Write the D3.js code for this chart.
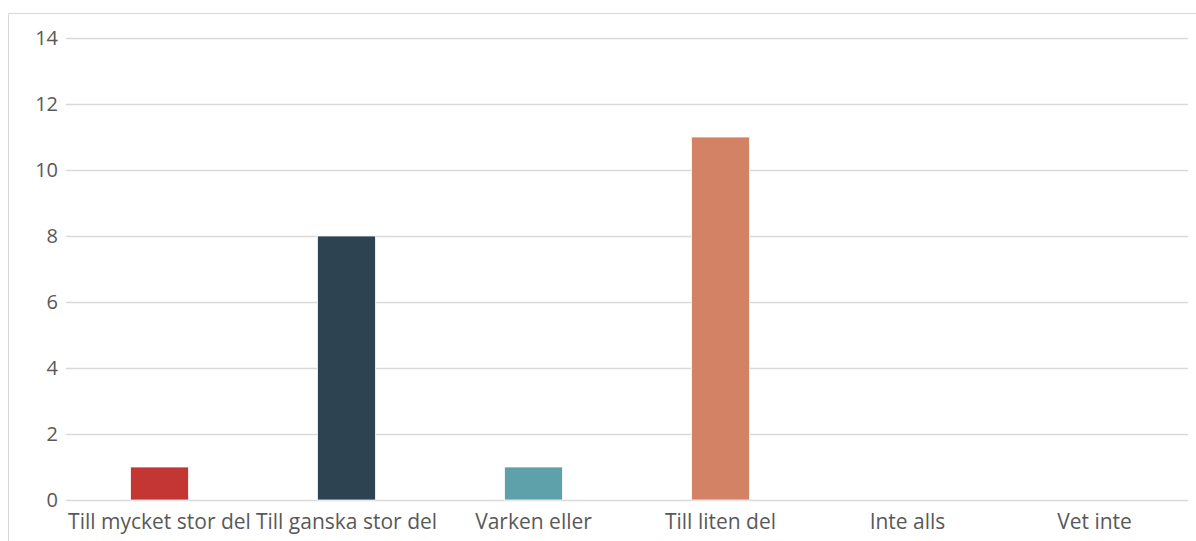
<!DOCTYPE html>
<html>
<head>
<meta charset="utf-8">
<script src="https://cdn.jsdelivr.net/npm/d3@7"></script>
<style>
  body { margin: 0; background: #fff; }
  svg text { font-family: "Open Sans", Lato, sans-serif; }
</style>
</head>
<body>
<div id="chart"></div>
<script>
var WIDTH = 1196;
var HEIGHT = 541;

var categories = ["Till mycket stor del", "Till ganska stor del", "Varken eller", "Till liten del", "Inte alls", "Vet inte"];
var values = [1, 8, 1, 11, 0, 0];
var colors = ["#c33633", "#2e4352", "#5fa1aa", "#d38265", "#999999", "#999999"];
var yTicks = [0, 2, 4, 6, 8, 10, 12, 14];

var margin = {left: 66, right: 8, top: 38, bottom: 41};

var svg = d3.select("#chart")
			.append("svg")
			.attr("width", WIDTH)
			.attr("height", HEIGHT);

// chart frame (only top and left edges are inside the picture)
svg.append("rect")
	.attr("x", 8.5)
	.attr("y", 13.5)
	.attr("width", WIDTH + 20)
	.attr("height", HEIGHT + 20)
	.attr("fill", "none")
	.attr("stroke", "#d9d9d9")
	.attr("stroke-width", 1);

var x = d3.scaleBand()
		  .domain(categories)
		  .range([margin.left, WIDTH - margin.right])
		  .paddingInner(0.69)
		  .paddingOuter(0.345);

var y = d3.scaleLinear()
		  .domain([0, 14])
		  .range([HEIGHT - margin.bottom, margin.top]);

// gridlines
var yAxis = svg.append("g")
			   .attr("transform", "translate(" + margin.left + ",0)")
			   .call(d3.axisLeft(y)
					  .tickValues(yTicks)
					  .tickSize(-(WIDTH - margin.right - margin.left))
					  .tickPadding(8));

yAxis.select(".domain").remove();
yAxis.selectAll(".tick line")
	 .attr("stroke", "#d9d9d9")
	 .attr("stroke-width", 1.5);
yAxis.selectAll(".tick text")
	 .attr("fill", "#595959")
	 .attr("font-size", "20px");

// bars
svg.append("g")
   .selectAll("rect")
   .data(values)
   .join("rect")
   .attr("x", function(d, i) { return x(categories[i]); })
   .attr("y", function(d) { return y(d); })
   .attr("width", x.bandwidth())
   .attr("height", function(d) { return y(0) - y(d); })
   .attr("fill", function(d, i) { return colors[i]; })
   .attr("stroke", "#ffffff")
   .attr("stroke-width", 0.75);

// x axis labels
var xAxis = svg.append("g")
			   .attr("transform", "translate(0," + y(0) + ")")
			   .call(d3.axisBottom(x).tickSize(0).tickPadding(14));

xAxis.select(".domain").remove();
xAxis.selectAll(".tick text")
	 .attr("fill", "#595959")
	 .attr("font-size", "21px");
</script>
</body>
</html>
